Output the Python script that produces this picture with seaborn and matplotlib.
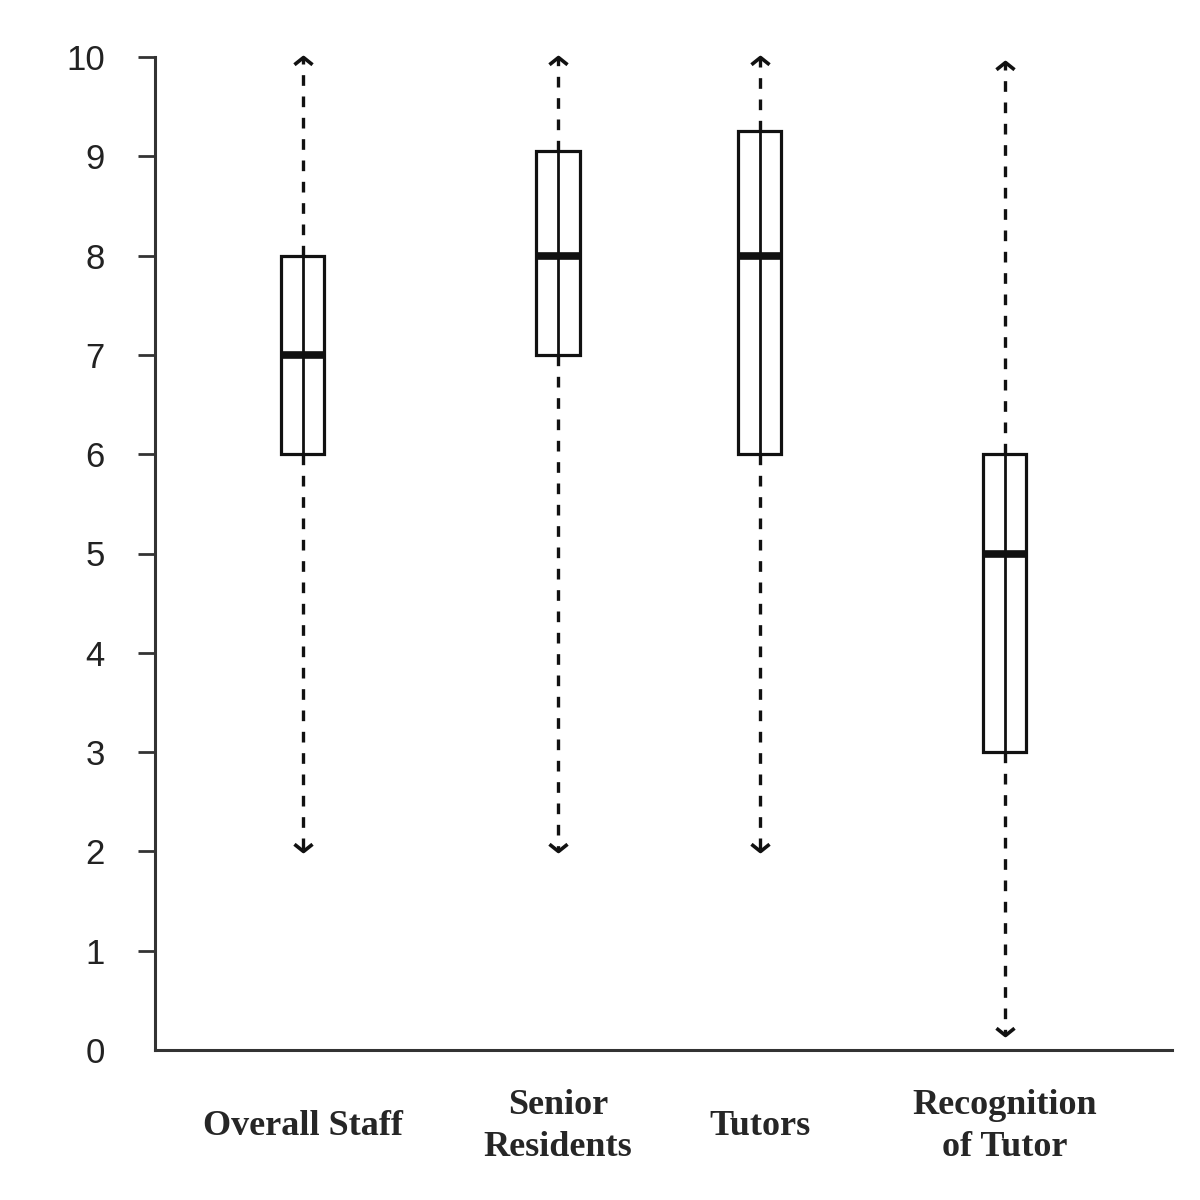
import numpy as np
import pandas as pd
import matplotlib
matplotlib.use('Agg')
import matplotlib.pyplot as plt
from matplotlib.path import Path
import seaborn as sns

# values
groups = ['Overall Staff', 'Senior\nResidents', 'Tutors', 'Recognition\nof Tutor']
whisker_low = [2.0, 2.0, 2.0, 0.15]
q1 = [6.0, 7.0, 6.0, 3.0]
median = [7.0, 8.0, 8.0, 5.0]
q3 = [8.0, 9.05, 9.25, 6.0]
whisker_high = [10.0, 10.0, 10.0, 9.95]

# layout: horizontal box positions (uneven in the original)
box_x = [1.0, 2.0, 2.79, 3.75]

rows = []
for i, g in enumerate(groups):
    for v in (whisker_low[i], q1[i], median[i], q3[i], whisker_high[i]):
        rows.append({'pos': box_x[i], 'group': g, 'value': v})
df = pd.DataFrame(rows)

sns.set_style('white')
plt.rcParams['font.family'] = ['Liberation Sans', 'DejaVu Sans']

ink = '#111111'
fig = plt.figure(figsize=(12, 12), dpi=100)
ax = fig.add_axes([0.129, 0.125, 0.848, 0.8275])

sns.boxplot(data=df, x='pos', y='value', native_scale=True, whis=np.inf,
            width=0.214, color='white', linecolor=ink, linewidth=2.3,
            showcaps=False, ax=ax,
            medianprops=dict(linewidth=5.5, color=ink),
            whiskerprops=dict(linestyle=(0, (3.2, 3.2)), linewidth=2.4, color=ink))

# solid centre line inside each box
ax.vlines(box_x, q1, q3, color=ink, linewidth=2.0, zorder=3)

# open chevron arrowheads at whisker ends
up = Path([(-1, -0.8), (0, 0), (1, -0.8)], [Path.MOVETO, Path.LINETO, Path.LINETO])
down = Path([(-1, 0.8), (0, 0), (1, 0.8)], [Path.MOVETO, Path.LINETO, Path.LINETO])
ax.plot(box_x, whisker_high, ls='none', marker=up, ms=13, mew=2.6,
        mfc='none', mec=ink, clip_on=False, zorder=4)
ax.plot(box_x, whisker_low, ls='none', marker=down, ms=13, mew=2.6,
        mfc='none', mec=ink, clip_on=False, zorder=4)

ax.set_xlim(0.42, 4.408)
ax.set_ylim(0, 10)
ax.set_yticks(range(0, 11))
ax.set_yticklabels([str(v) for v in range(0, 11)], fontsize=25, color='#222222')
ax.tick_params(axis='y', direction='out', length=12, width=2, color='#333333',
               pad=24, left=True)
ax.yaxis.get_major_ticks()[0].tick1line.set_visible(False)

ax.set_xticks(box_x)
ax.set_xticklabels(groups, fontsize=26, fontweight='bold',
                   family=['Liberation Serif', 'DejaVu Serif'], linespacing=1.35)
ax.tick_params(axis='x', length=0, pad=55)
for lab in ax.get_xticklabels():
    lab.set_va('center')

ax.set_xlabel('')
ax.set_ylabel('')
sns.despine(ax=ax, top=True, right=True)
for side in ('left', 'bottom'):
    ax.spines[side].set_color('#333333')
    ax.spines[side].set_linewidth(2.2)

fig.savefig('out.png', dpi=100)
